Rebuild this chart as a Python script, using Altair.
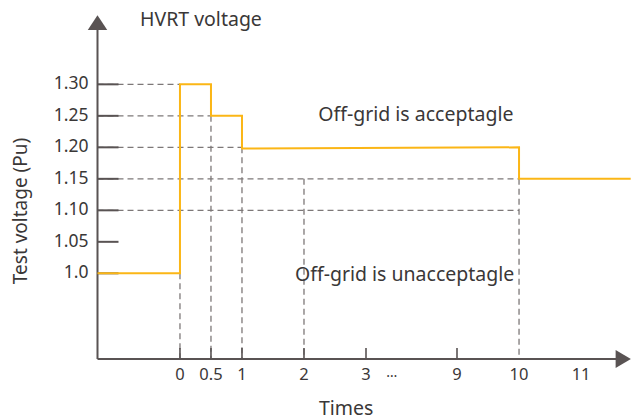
import altair as alt
import pandas as pd

# ---- frame of the schematic (time axis is broken between 3 and 9) ----
X_MIN = -1.33      # where the voltage axis crosses the time axis
X_ARROW = 11.68    # time-axis arrow
Y_MIN = 0.864      # where the time axis crosses the voltage axis
Y_ARROW = 1.398    # voltage-axis arrow

# ---- axis ticks / labels ----
time_ticks = [0, 0.5, 1, 2, 3, 9, 10, 11]
time_labels = ["0", "0.5", "1", "2", "3", "9", "10", "11"]
time_tick_marks = [0, 0.5, 1, 2, 3, 9]
volt_ticks = [1.0, 1.05, 1.10, 1.15, 1.20, 1.25, 1.30]
volt_labels = ["1.0", "1.05", "1.10", "1.15", "1.20", "1.25", "1.30"]

# ---- HVRT test voltage profile ----
step_t = [X_MIN, 0, 0, 0.5, 0.5, 1, 1, 10, 10, 11.8]
step_v = [1.0, 1.0, 1.30, 1.30, 1.25, 1.25, 1.198, 1.200, 1.15, 1.15]

# ---- dashed guides ----
hguide_v = [1.30, 1.25, 1.20, 1.15, 1.10]
hguide_end = [0, 0.5, 1, 10, 10]
vguide_t = [0, 0.5, 1, 2, 10]
vguide_top = [1.0, 1.25, 1.20, 1.15, 1.15]

# ---- annotations ----
notes = ["HVRT voltage", "Off-grid is acceptagle", "Off-grid is unacceptagle"]
notes_t = [-0.645, 2.23, 1.855]
notes_v = [1.402, 1.251, 0.997]

AXIS_C = "#595353"
DASH_C = "#7d7878"
LINE_C = "#FBB616"
TEXT_C = "#3a3737"
FONT = "Noto Sans"

xs = alt.Scale(domain=[X_MIN, 3, 9, 11.95], range=[0, 268.5, 359.5, 542.5],
               nice=False, zero=False)
ys = alt.Scale(domain=[Y_MIN, 1.418], nice=False, zero=False)

def X(f):
    return alt.X(f, type="quantitative", scale=xs, axis=None)

def Y(f):
    return alt.Y(f, type="quantitative", scale=ys, axis=None)

hg = pd.DataFrame({"v": hguide_v, "t0": [X_MIN] * len(hguide_v), "t1": hguide_end})
vg = pd.DataFrame({"t": vguide_t, "top": vguide_top, "bot": [Y_MIN] * len(vguide_t)})
step = pd.DataFrame({"t": step_t, "v": step_v, "i": list(range(len(step_t)))})
yt = pd.DataFrame({"v": volt_ticks, "lab": volt_labels, "t": [X_MIN] * len(volt_ticks)})
xt = pd.DataFrame({"t": time_ticks, "lab": time_labels, "v": [Y_MIN] * len(time_ticks)})
xm = pd.DataFrame({"t": time_tick_marks, "v": [Y_MIN] * len(time_tick_marks)})
frame = pd.DataFrame({"t": [X_MIN], "v": [Y_MIN], "t2": [X_ARROW], "v2": [Y_ARROW]})
nt = pd.DataFrame({"lab": notes, "t": notes_t, "v": notes_v})
ytitle = pd.DataFrame({"lab": ["Test voltage (Pu)"], "t": [-2.47], "v": [1.099]})
xtitle = pd.DataFrame({"lab": ["Times"], "t": [2.68], "v": [0.7846]})
ell = pd.DataFrame({"lab": ["\u2026"], "t": [4.7], "v": [Y_MIN]})

h_layer = alt.Chart(hg).mark_rule(color=DASH_C, strokeWidth=1.3, strokeDash=[6, 4]).encode(
    x=X("t0"), x2="t1", y=Y("v"))
v_layer = alt.Chart(vg).mark_rule(color=DASH_C, strokeWidth=1.3, strokeDash=[6, 4]).encode(
    x=X("t"), y=Y("top"), y2="bot")

y_axis = alt.Chart(frame).mark_rule(color=AXIS_C, strokeWidth=2).encode(
    x=X("t"), y=Y("v"), y2="v2")
x_axis = alt.Chart(frame).mark_rule(color=AXIS_C, strokeWidth=2).encode(
    x=X("t"), x2="t2", y=Y("v"))
y_arrow = alt.Chart(frame).mark_point(
    shape="M-1,0.75L0,-0.75L1,0.75Z", size=380, filled=True, opacity=1,
    color=AXIS_C, strokeWidth=0).encode(x=X("t"), y=Y("v2"))
x_arrow = alt.Chart(frame).mark_point(
    shape="M-0.85,-1L0.85,0L-0.85,1Z", size=324, filled=True, opacity=1,
    color=AXIS_C, strokeWidth=0).encode(x=X("t2"), y=Y("v"))

y_ticks = alt.Chart(yt).mark_point(
    shape="M-1,0L1,0", size=441, filled=False, opacity=1, color=AXIS_C,
    strokeWidth=2, xOffset=10.5).encode(x=X("t"), y=Y("v"))
x_ticks = alt.Chart(xm).mark_point(
    shape="M0,-1L0,1", size=121, filled=False, opacity=1, color=AXIS_C,
    strokeWidth=1.6, yOffset=-5.5).encode(x=X("t"), y=Y("v"))

profile = alt.Chart(step).mark_line(color=LINE_C, strokeWidth=2, interpolate="linear").encode(
    x=X("t"), y=Y("v"), order="i:Q")

y_labels = alt.Chart(yt).mark_text(
    align="right", baseline="middle", dx=-9, font=FONT, fontSize=17.5, color=TEXT_C).encode(
    x=X("t"), y=Y("v"), text="lab:N")
x_labels = alt.Chart(xt).mark_text(
    align="center", baseline="middle", dy=16, font=FONT, fontSize=16.5, color=TEXT_C).encode(
    x=X("t"), y=Y("v"), text="lab:N")
ellipsis = alt.Chart(ell).mark_text(
    align="center", baseline="middle", dy=14, font=FONT, fontSize=14, color=TEXT_C).encode(
    x=X("t"), y=Y("v"), text="lab:N")

annot = alt.Chart(nt).mark_text(
    align="left", baseline="middle", font=FONT, fontSize=19.5, color=TEXT_C).encode(
    x=X("t"), y=Y("v"), text="lab:N")
y_title = alt.Chart(ytitle).mark_text(
    align="center", baseline="alphabetic", angle=270, font=FONT, fontSize=19,
    color=TEXT_C).encode(x=X("t"), y=Y("v"), text="lab:N")
x_title = alt.Chart(xtitle).mark_text(
    align="center", baseline="middle", font=FONT, fontSize=19.5, color=TEXT_C).encode(
    x=X("t"), y=Y("v"), text="lab:N")

chart = alt.layer(
    h_layer, v_layer, y_axis, x_axis, y_ticks, x_ticks, profile,
    y_arrow, x_arrow, y_labels, x_labels, ellipsis, annot, y_title, x_title
).properties(
    width=534.5, height=349,
    padding={"left": 89.5, "top": 2, "right": 0, "bottom": 59},
    autosize=alt.AutoSizeParams(type="none"),
    background="white",
).configure_view(stroke=None)

chart.save("out.html", embed_options={"renderer": "svg", "actions": False})
